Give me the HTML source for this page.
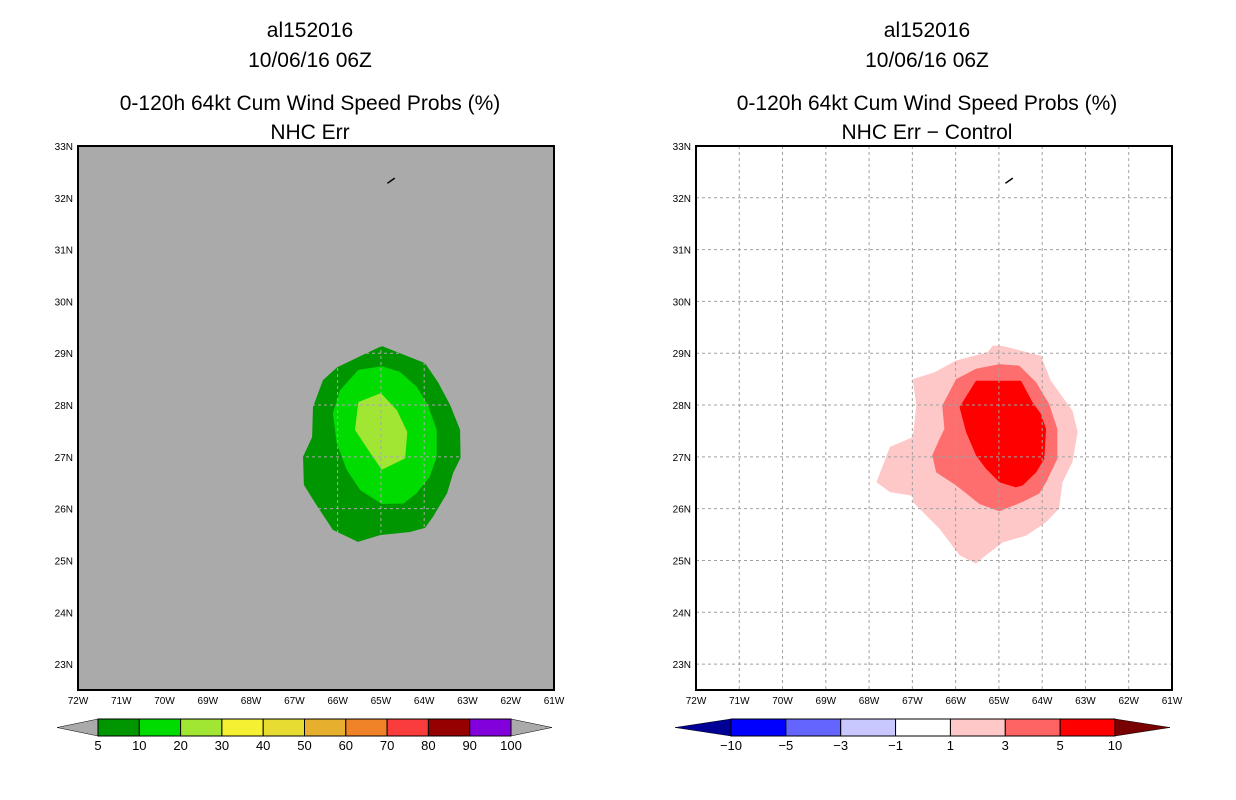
<!DOCTYPE html>
<html><head><meta charset="utf-8"><style>
body{margin:0;background:#fff;}
svg{display:block;font-family:"Liberation Sans",sans-serif;}
</style></head><body>
<svg id="s" width="1236" height="800">
<g font-size="21" text-anchor="middle" fill="#000">
<text x="310" y="37">al152016</text><text x="310" y="67">10/06/16 06Z</text>
<text x="310" y="110">0-120h 64kt Cum Wind Speed Probs (%)</text><text x="310" y="139">NHC Err</text></g>
<g font-size="21" text-anchor="middle" fill="#000">
<text x="927" y="37">al152016</text><text x="927" y="67">10/06/16 06Z</text>
<text x="927" y="110">0-120h 64kt Cum Wind Speed Probs (%)</text><text x="927" y="139">NHC Err − Control</text></g>
<g id="L"></g>
<g id="R"></g>
<g id="CL"></g>
<g id="CR"></g>
</svg>
<script>
const lonTicks=[-72,-71,-70,-69,-68,-67,-66,-65,-64,-63,-62,-61];
const latTicks=[23,24,25,26,27,28,29,30,31,32,33];
const leftOuter=[[-64.98,29.14],[-63.98,28.81],[-63.68,28.44],[-63.40,28.0],[-63.17,27.52],[-63.16,26.98],[-63.33,26.69],[-63.47,26.30],[-63.80,25.84],[-63.98,25.63],[-64.33,25.55],[-65.02,25.49],[-65.53,25.36],[-66.11,25.59],[-66.52,26.11],[-66.78,26.46],[-66.80,27.0],[-66.59,27.38],[-66.57,27.96],[-66.34,28.48],[-66.01,28.73],[-65.41,28.97]];
const leftMid=[[-65.52,28.68],[-64.98,28.75],[-64.56,28.64],[-64.17,28.35],[-63.90,27.97],[-63.71,27.52],[-63.71,27.0],[-63.87,26.62],[-64.17,26.30],[-64.48,26.10],[-64.98,26.09],[-65.48,26.36],[-65.79,26.75],[-66.02,27.26],[-66.11,27.84],[-65.94,28.29]];
const leftInner=[[-65.52,28.06],[-65.0,28.23],[-64.63,27.90],[-64.39,27.48],[-64.44,26.97],[-64.98,26.75],[-65.29,27.13],[-65.60,27.52]];
const rightLight=[[-65.14,29.15],[-64.91,29.14],[-64.03,28.95],[-63.80,28.47],[-63.30,27.89],[-63.18,27.48],[-63.30,26.90],[-63.53,26.51],[-63.61,26.0],[-63.91,25.74],[-64.37,25.48],[-64.91,25.35],[-65.30,25.10],[-65.53,24.94],[-65.91,25.10],[-66.37,25.61],[-66.99,26.13],[-66.99,26.25],[-67.52,26.32],[-67.83,26.51],[-67.52,27.19],[-66.99,27.38],[-66.91,27.99],[-66.99,28.50],[-66.49,28.63],[-65.99,28.86],[-65.26,29.02]];
const rightMid=[[-65.53,28.70],[-64.99,28.79],[-64.53,28.76],[-64.14,28.44],[-63.84,28.02],[-63.65,27.54],[-63.65,26.96],[-63.91,26.51],[-64.07,26.29],[-64.45,26.13],[-64.99,25.95],[-65.45,26.09],[-65.99,26.45],[-66.45,26.70],[-66.54,27.03],[-66.37,27.35],[-66.26,27.54],[-66.31,27.99],[-65.99,28.50]];
const rightInner=[[-65.53,28.47],[-64.49,28.47],[-64.22,28.05],[-64.03,27.83],[-63.91,27.54],[-63.95,26.96],[-64.14,26.70],[-64.45,26.45],[-64.61,26.41],[-64.99,26.51],[-65.30,26.77],[-65.53,27.03],[-65.76,27.48],[-65.91,27.96]];
const island=[[-64.85,32.28],[-64.68,32.38]];
const leftLevels=["5","10","20","30","40","50","60","70","80","90","100"];
const leftColors=["#009600","#00dc00","#a0e632","#f5f032","#e6dc32","#e6af2d","#f08228","#fa3c3c","#960000","#8200dc"];
const rightLevels=["−10","−5","−3","−1","1","3","5","10"];
const rightColors=["#0000ff","#6464ff","#c8c8ff","#ffffff","#ffc8c8","#ff6464","#ff0000"];
const NS="http://www.w3.org/2000/svg";
function mk(p,t,a){const e=document.createElementNS(NS,t);for(const k in a)e.setAttribute(k,a[k]);p.appendChild(e);return e;}
const Y0=146,Y1=690,W=476;
function sy(lat){return Y0+(33-lat)*(Y1-Y0)/10.5;}
function drawMap(g,x0,bg,gridCol,polys){
  const sx=lon=>x0+(lon+72)*W/11;
  const r=mk(g,'rect',{x:x0,y:Y0,width:W,height:Y1-Y0,fill:bg});
  
  polys.forEach(([pts,c,n])=>{const p=mk(g,'polygon',{points:pts.map(q=>sx(q[0])+','+sy(q[1])).join(' '),fill:c});
    });
  lonTicks.slice(1,-1).forEach(l=>{const e=mk(g,'line',{x1:sx(l),x2:sx(l),y1:Y0,y2:Y1,stroke:gridCol,'stroke-dasharray':'3,3'});
    });
  latTicks.slice(0,-1).forEach(l=>{const e=mk(g,'line',{x1:x0,x2:x0+W,y1:sy(l),y2:sy(l),stroke:gridCol,'stroke-dasharray':'3,3'});
    });
  const isl=mk(g,'polyline',{points:island.map(q=>sx(q[0])+','+sy(q[1])).join(' '),stroke:'#000','stroke-width':1.5,fill:'none'});
  
  const f=mk(g,'rect',{x:x0,y:Y0,width:W,height:Y1-Y0,fill:'none',stroke:'#000','stroke-width':2});
  
  lonTicks.forEach(l=>{const t=mk(g,'text',{x:sx(l),y:704,'font-size':10,'text-anchor':'middle'});t.textContent=(-l)+'W';
    });
  latTicks.forEach(l=>{const t=mk(g,'text',{x:x0-5,y:sy(l)+4,'font-size':10,'text-anchor':'end'});t.textContent=l+'N';
    });
}
drawMap(document.getElementById('L'),78,'#aaaaaa','#aaaaaa',[[leftOuter,'#009600','contour-5'],[leftMid,'#00dc00','contour-10'],[leftInner,'#a0e632','contour-20']]);
drawMap(document.getElementById('R'),696,'#ffffff','#a0a0a0',[[rightLight,'#ffc8c8','contour-1'],[rightMid,'#ff6e6e','contour-3'],[rightInner,'#ff0000','contour-5']]);
function drawBar(g,a,b,x0,x1,cols,labs,lc,rc){
  const y=719,h=17,n=cols.length,w=(x1-x0)/n;
  const t1=mk(g,'polygon',{points:`${a},${y+h/2} ${x0},${y} ${x0},${y+h}`,fill:lc,stroke:'#000','stroke-width':0.5});
  
  const t2=mk(g,'polygon',{points:`${b},${y+h/2} ${x1},${y} ${x1},${y+h}`,fill:rc,stroke:'#000','stroke-width':0.5});
  
  cols.forEach((c,i)=>{const r=mk(g,'rect',{x:x0+i*w,y:y,width:w,height:h,fill:c,stroke:'#000','stroke-width':1});
    });
  labs.forEach((s,i)=>{const t=mk(g,'text',{x:x0+i*w,y:750,'font-size':13,'text-anchor':'middle'});t.textContent=s;
    });
}
drawBar(document.getElementById('CL'),57,552,98,511,leftColors,leftLevels,'#aaaaaa','#aaaaaa');
drawBar(document.getElementById('CR'),675,1170,731,1115,rightColors,rightLevels,'#000096','#780000');
</script>
</body></html>
